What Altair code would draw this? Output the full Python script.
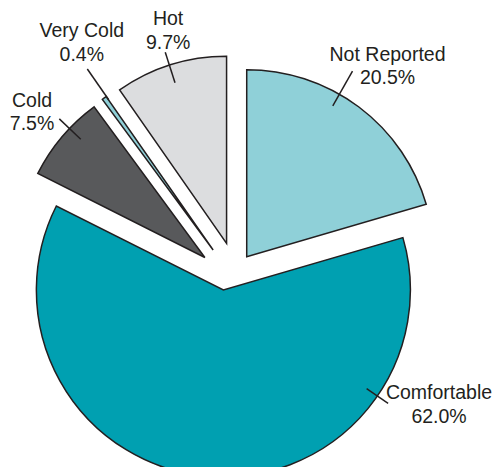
import altair as alt
import pandas as pd

# ---- data (clockwise from 12 o'clock) ----
categories = ["Not Reported", "Comfortable", "Cold", "Very Cold", "Hot"]
values = [20.5, 62.0, 7.5, 0.4, 9.7]

# ---- style ----
colors = ["#8fd0d8", "#00a0b1", "#58595b", "#8fd0d8", "#dcdddf"]
explode = [25.0, 14.8, 31.5, 31.1, 32.2]          # px, outward along slice bisector
drift = [1.4, 5.9, -2.6, 0.8, 5.9]                 # px, clockwise sideways nudge
leader_angle = [29.7, 124.55, 313.6, 325.2, 342.2]  # degrees, clockwise from top
leader_r1 = [173.7, 173.9, 171.4, 183.0, 168.7]
leader_r2 = [213.5, 200.0, 201.0, 220.5, 200.6]
label_angle = [35.7, 116.9, 311.1, 328.3, 345.0]
label_r = [241.3, 241.8, 229.3, 249.9, 225.9]

CX, CY, R = 222.6, 267.8, 187
LINE_H = 23.6
INK = "#231f20"

df = pd.DataFrame({
    "order": list(range(len(categories))),
    "category": categories,
    "value": values,
    "explode": explode,
    "drift": drift,
    "la": leader_angle,
    "r1": leader_r1,
    "r2": leader_r2,
    "ta": label_angle,
    "tr": label_r,
})

base = (
    alt.Chart(df)
    .transform_window(cum="sum(value)", sort=[alt.SortField("order")], frame=[None, 0])
    .transform_joinaggregate(total="sum(value)")
    .transform_calculate(
        a0="2*PI*(datum.cum - datum.value)/datum.total",
        a1="2*PI*datum.cum/datum.total",
        mid="(datum.a0 + datum.a1)/2",
        cx=f"{CX} + datum.explode*sin(datum.mid) + datum.drift*cos(datum.mid)",
        cy=f"{CY} - datum.explode*cos(datum.mid) + datum.drift*sin(datum.mid)",
        lar="datum.la*PI/180",
        tar="datum.ta*PI/180",
        lx1="datum.cx + datum.r1*sin(datum.lar)",
        ly1="datum.cy - datum.r1*cos(datum.lar)",
        lx2="datum.cx + datum.r2*sin(datum.lar)",
        ly2="datum.cy - datum.r2*cos(datum.lar)",
        tx="datum.cx + datum.tr*sin(datum.tar)",
        ty="datum.cy - datum.tr*cos(datum.tar)",
        ty2=f"datum.ty + {LINE_H}",
        pct="format(datum.value, '.1f') + '%'",
    )
)

arcs = base.mark_arc(radius=R, stroke=INK, strokeWidth=1.5, strokeJoin="miter").encode(
    theta=alt.Theta("a0:Q", scale=None),
    theta2="a1:Q",
    x=alt.X("cx:Q", scale=None, axis=None),
    y=alt.Y("cy:Q", scale=None, axis=None),
    color=alt.Color("category:N", scale=alt.Scale(domain=categories, range=colors), legend=None),
)

leaders = base.mark_rule(color=INK, strokeWidth=1.5).encode(
    x=alt.X("lx1:Q", scale=None, axis=None),
    y=alt.Y("ly1:Q", scale=None, axis=None),
    x2="lx2:Q",
    y2="ly2:Q",
)

name_text = base.mark_text(font="Liberation Sans", fontSize=19.5, color=INK,
                           align="center", baseline="alphabetic").encode(
    x=alt.X("tx:Q", scale=None, axis=None),
    y=alt.Y("ty:Q", scale=None, axis=None),
    text="category:N",
)

pct_text = base.mark_text(font="Liberation Sans", fontSize=19.5, color=INK,
                          align="center", baseline="alphabetic").encode(
    x=alt.X("tx:Q", scale=None, axis=None),
    y=alt.Y("ty2:Q", scale=None, axis=None),
    text="pct:N",
)

chart = (
    alt.layer(arcs, leaders, name_text, pct_text)
    .properties(width=485, height=459, autosize=alt.AutoSizeParams(type="none"), padding=0)
    .configure_view(stroke=None)
)

chart.save("out.html", embed_options={"renderer": "svg", "actions": False})
